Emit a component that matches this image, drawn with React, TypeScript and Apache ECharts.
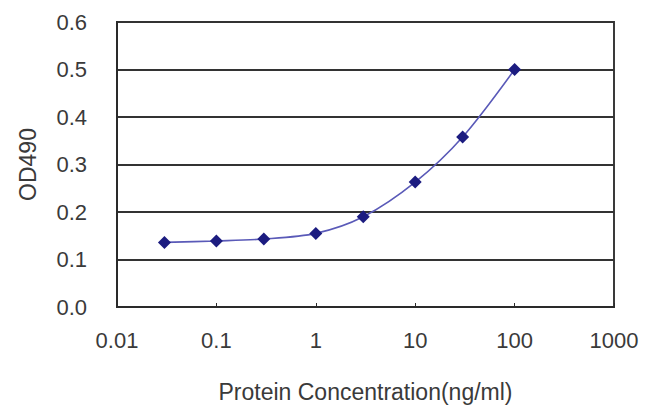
import React, { useEffect, useRef } from "react";
import * as echarts from "echarts";

const concentrations = [0.03, 0.1, 0.3, 1, 3, 10, 30, 100];
const od490 = [0.136, 0.139, 0.143, 0.155, 0.19, 0.263, 0.358, 0.5];
const xTickValues = [0.01, 0.1, 1, 10, 100, 1000];
const xTickLabels = ["0.01", "0.1", "1", "10", "100", "1000"];
const yTickLabels = ["0.0", "0.1", "0.2", "0.3", "0.4", "0.5", "0.6"];

export default function App() {
  const ref = useRef<HTMLDivElement>(null);
  useEffect(() => {
    if (!ref.current) return;
    const chart = echarts.init(ref.current, null, { renderer: "svg" });
    const font = "'Liberation Sans', Arial, sans-serif";
    const textColor = "#3a3a3a";
    chart.setOption({
      animation: false,
      backgroundColor: "#ffffff",
      grid: {
        left: 107,
        top: 14,
        right: 28,
        bottom: 102,
        show: true,
        borderColor: "#3a3a3a",
        borderWidth: 2,
        backgroundColor: "transparent",
      },
      xAxis: {
        type: "log",
        logBase: 10,
        min: 0.01,
        max: 1000,
        name: "Protein Concentration(ng/ml)",
        nameLocation: "middle",
        nameGap: 73,
        nameTextStyle: { fontFamily: font, fontSize: 23, color: textColor },
        axisLine: { show: true, lineStyle: { color: "#2a2a2a", width: 2 } },
        axisTick: { show: true, inside: true, length: 4, lineStyle: { color: "#2a2a2a" } },
        splitLine: { show: false },
        axisLabel: {
          fontFamily: font,
          fontSize: 22,
          color: textColor,
          margin: 22,
          formatter: (v: number) => {
            const i = xTickValues.findIndex((t) => Math.abs(Math.log10(t) - Math.log10(v)) < 1e-6);
            return i >= 0 ? xTickLabels[i] : "";
          },
        },
      },
      yAxis: {
        type: "value",
        min: 0,
        max: 0.6,
        interval: 0.1,
        name: "OD490",
        nameLocation: "middle",
        nameGap: 78,
        nameRotate: 90,
        nameTextStyle: { fontFamily: font, fontSize: 23, color: textColor },
        axisLine: { show: true, lineStyle: { color: "#2a2a2a", width: 2 } },
        axisTick: { show: false },
        splitLine: { show: true, lineStyle: { color: "#333", width: 2 } },
        axisLabel: {
          fontFamily: font,
          fontSize: 22,
          color: textColor,
          margin: 30,
          formatter: (v: number) => yTickLabels[Math.round(v * 10)] ?? "",
        },
      },
      series: [
        {
          type: "line",
          data: concentrations.map((c, i) => [c, od490[i]]),
          smooth: 0.3,
          symbol: "diamond",
          symbolSize: 13,
          itemStyle: { color: "#1c1c80" },
          lineStyle: { color: "#5a5ab8", width: 1.6 },
        },
      ],
    });
    return () => chart.dispose();
  }, []);
  return <div ref={ref} style={{ width: 634, height: 401 }} />;
}
